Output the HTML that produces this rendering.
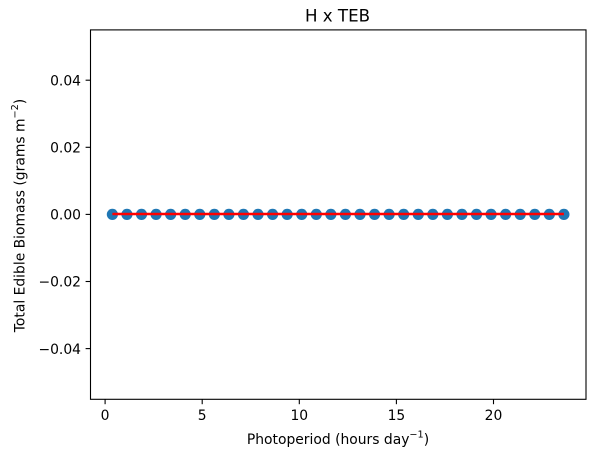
<!DOCTYPE html>
<html>
<head>
<meta charset="utf-8">
<style>
html,body{margin:0;padding:0;background:#fff;width:595px;height:460px;overflow:hidden}
svg{display:block}
text{font-family:"DejaVu Sans","Liberation Sans",sans-serif;fill:#000}
</style>
</head>
<body>
<svg id="chart" width="595" height="460" viewBox="0 0 595 460" xmlns="http://www.w3.org/2000/svg">
<rect x="90.5" y="29.9" width="495.5" height="369.4" fill="#fff"/>
<g id="marks"></g>
<g id="axes"></g>
<rect x="90.5" y="29.9" width="495.5" height="369.4" fill="none" stroke="#000" stroke-width="1.1"/>
<text x="337.5" y="21.5" font-size="16.67" text-anchor="middle">H x TEB</text>
<text x="338" y="444" font-size="13.89" text-anchor="middle">Photoperiod (hours day<tspan dy="-6.5" font-size="9.7">−1</tspan><tspan dy="6.5">)</tspan></text>
<text transform="translate(24.5,215.5) rotate(-90)" font-size="13.89" text-anchor="middle">Total Edible Biomass (grams m<tspan dy="-6.5" font-size="9.7">−2</tspan><tspan dy="6.5">)</tspan></text>
</svg>
<script>
const photoperiod = [0.375,1.125,1.875,2.625,3.375,4.125,4.875,5.625,6.375,7.125,7.875,8.625,9.375,10.125,10.875,11.625,12.375,13.125,13.875,14.625,15.375,16.125,16.875,17.625,18.375,19.125,19.875,20.625,21.375,22.125,22.875,23.625];
const biomass = [0,0,0,0,0,0,0,0,0,0,0,0,0,0,0,0,0,0,0,0,0,0,0,0,0,0,0,0,0,0,0,0];
const fitLine = [0,0,0,0,0,0,0,0,0,0,0,0,0,0,0,0,0,0,0,0,0,0,0,0,0,0,0,0,0,0,0,0];
const xTicks = [0,5,10,15,20];
const yTicks = [-0.04,-0.02,0,0.02,0.04];

const NS = 'http://www.w3.org/2000/svg';
function xScale(v){ return 105.1 + v * 19.42; }
function yScale(v){ return 214.4 - v * 3355; }
const marks = document.getElementById('marks');
const axes = document.getElementById('axes');

photoperiod.forEach(function(x, i){
  const c = document.createElementNS(NS, 'circle');
  
  
  c.setAttribute('cx', xScale(x));
  c.setAttribute('cy', yScale(biomass[i]));
  c.setAttribute('r', 5.6);
  c.setAttribute('fill', '#1f77b4');
  marks.appendChild(c);
});

const line = document.createElementNS(NS, 'polyline');


line.setAttribute('points', photoperiod.map(function(x, i){ return xScale(x) + ',' + (yScale(fitLine[i]) - 0.4); }).join(' '));
line.setAttribute('fill', 'none');
line.setAttribute('stroke', '#ff0000');
line.setAttribute('stroke-width', 2.6);
marks.appendChild(line);

xTicks.forEach(function(v){
  const t = document.createElementNS(NS, 'line');
  
  
  t.setAttribute('x1', xScale(v));
  t.setAttribute('x2', xScale(v));
  t.setAttribute('y1', 399.3);
  t.setAttribute('y2', 404.2);
  t.setAttribute('stroke', '#000');
  t.setAttribute('stroke-width', 1.1);
  axes.appendChild(t);
  const l = document.createElementNS(NS, 'text');
  
  
  l.setAttribute('x', xScale(v));
  l.setAttribute('y', 420);
  l.setAttribute('font-size', 13.89);
  l.setAttribute('text-anchor', 'middle');
  l.textContent = String(v);
  axes.appendChild(l);
});

yTicks.forEach(function(v){
  const t = document.createElementNS(NS, 'line');
  
  
  t.setAttribute('x1', 85.6);
  t.setAttribute('x2', 90.5);
  t.setAttribute('y1', yScale(v));
  t.setAttribute('y2', yScale(v));
  t.setAttribute('stroke', '#000');
  t.setAttribute('stroke-width', 1.1);
  axes.appendChild(t);
  const l = document.createElementNS(NS, 'text');
  
  
  l.setAttribute('x', 81);
  l.setAttribute('y', yScale(v) + 5.2);
  l.setAttribute('font-size', 13.89);
  l.setAttribute('text-anchor', 'end');
  l.textContent = (v < 0 ? '\u2212' : '') + Math.abs(v).toFixed(2);
  axes.appendChild(l);
});
</script>
</body>
</html>
